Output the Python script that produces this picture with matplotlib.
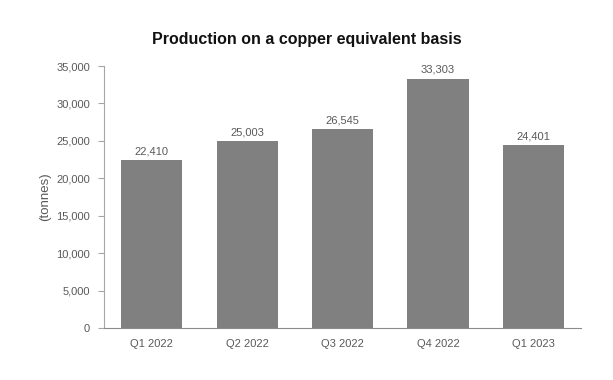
import matplotlib.pyplot as plt
import numpy as np

plt.rcParams["font.family"] = ["Liberation Sans", "DejaVu Sans"]

quarters = ["Q1 2022", "Q2 2022", "Q3 2022", "Q4 2022", "Q1 2023"]
production = [22410, 25003, 26545, 33303, 24401]

TEXT = "#595959"
BAR = "#808080"
AXIS = "#a6a6a6"

fig = plt.figure(figsize=(6.13, 3.8), dpi=100)
ax = fig.add_axes([0.1697, 0.1368, 0.7783, 0.6895])

x = np.arange(len(quarters))
ax.bar(x, production, width=0.64, color=BAR)
for xi, v in zip(x, production):
    ax.text(xi, v + 500, f"{v:,}", ha="center", va="bottom", fontsize=8, color=TEXT)

ax.set_xlim(-0.5, len(quarters) - 0.5)
ax.set_ylim(0, 35000)
ax.set_yticks(np.arange(0, 35001, 5000))
ax.set_yticklabels([f"{t:,}" for t in range(0, 35001, 5000)])
ax.set_xticks(x)
ax.set_xticklabels(quarters)

ax.tick_params(axis="y", colors=AXIS, labelcolor=TEXT, labelsize=8, length=4, pad=6)
ax.tick_params(axis="x", length=0, labelcolor=TEXT, labelsize=8, pad=8)

for s in ["top", "right"]:
    ax.spines[s].set_visible(False)
ax.spines["left"].set_color(AXIS)
ax.spines["bottom"].set_color("#8c8c8c")

ax.set_ylabel("(tonnes)", fontsize=9.5, color=TEXT, labelpad=4)
fig.text(0.501, 0.895, "Production on a copper equivalent basis", ha="center",
         va="center", fontsize=11.5, fontweight="bold", color="#111111")

fig.savefig("out.png", dpi=100)
